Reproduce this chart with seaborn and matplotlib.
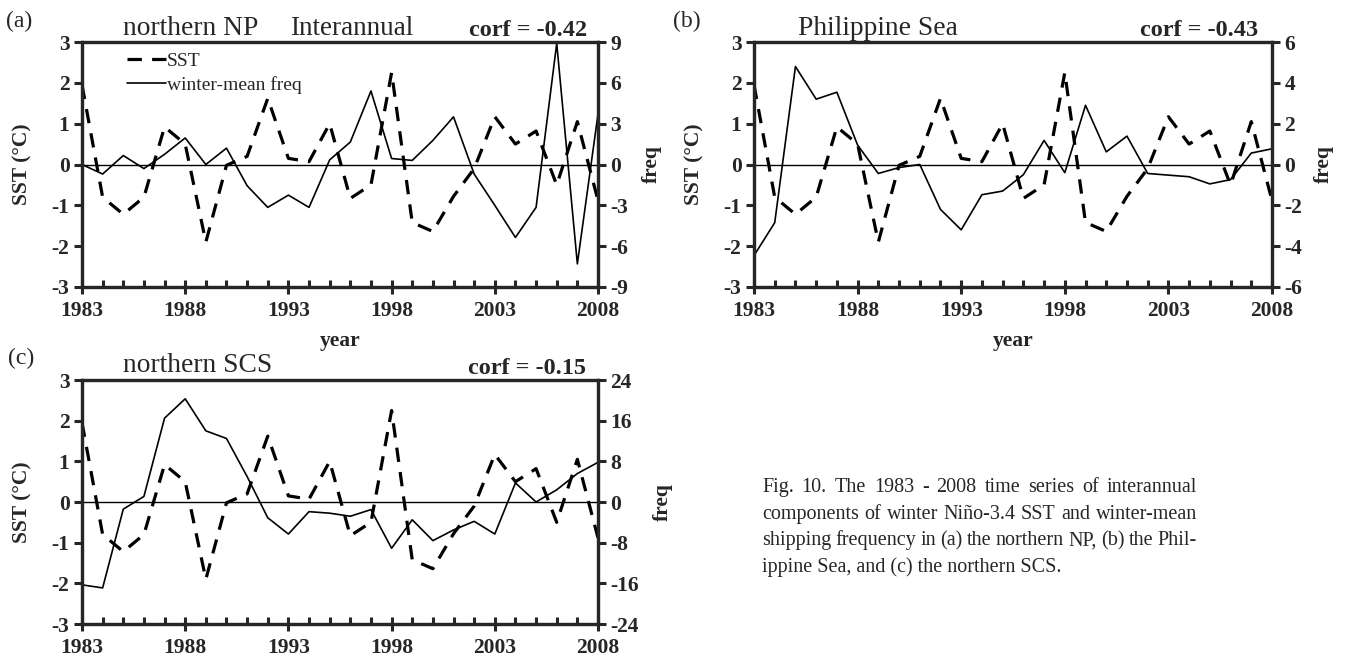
import matplotlib
matplotlib.use("Agg")
import pandas as pd
import matplotlib.pyplot as plt
from matplotlib.ticker import MultipleLocator
import seaborn as sns

# --- data ---
years = list(range(1983, 2009))
sst = [1.95, -0.80, -1.22, -0.80, 0.92, 0.50, -1.90, -0.02, 0.20, 1.62, 0.15, 0.07, 1.00,
       -0.83, -0.50, 2.25, -1.42, -1.64, -0.78, -0.10, 1.17, 0.50, 0.82, -0.50, 1.05, -0.88]
freq_np = [0.0, -0.7, 0.66, -0.3, 0.75, 1.95, 0.0, 1.2, -1.56, -3.15, -2.25, -3.15, 0.34,
           1.65, 5.4, 0.44, 0.3, 1.77, 3.5, -0.7, -3.0, -5.36, -3.15, 8.9, -7.3, 3.7]
freq_ps = [-4.46, -2.85, 4.8, 3.2, 3.54, 0.95, -0.44, -0.15, 0.0, -2.2, -3.2, -1.48, -1.3,
           -0.5, 1.18, -0.4, 2.9, 0.62, 1.39, -0.44, -0.52, -0.6, -0.95, -0.74, 0.56, 0.77]
freq_scs = [-16.3, -16.9, -1.4, 1.1, 16.5, 20.3, 14.0, 12.5, 5.0, -3.1, -6.3, -1.9, -2.2,
            -2.8, -1.5, -9.1, -3.5, -7.6, -5.5, -3.8, -6.3, 3.75, 0.0, 2.4, 5.6, 7.8]
year_ticks = [1983, 1988, 1993, 1998, 2003, 2008]
sst_ticks = [-3, -2, -1, 0, 1, 2, 3]
np_ticks = [-9, -6, -3, 0, 3, 6, 9]
ps_ticks = [-6, -4, -2, 0, 2, 4, 6]
scs_ticks = [-24, -16, -8, 0, 8, 16, 24]

sns.set_style("ticks")
plt.rcParams['font.family'] = ['Liberation Serif', 'DejaVu Serif']

W, H = 1345, 662
fig = plt.figure(figsize=(W / 100, H / 100), dpi=100)


def px(x, y):
    return x / W, 1 - y / H


def panel(box, freq, fticks, xlabel, legend, fpad):
    l, t, r, b = box
    ax = fig.add_axes([l / W, 1 - b / H, (r - l) / W, (b - t) / H])
    df = pd.DataFrame({'year': years, 'sst': sst, 'freq': freq})
    sns.lineplot(data=df, x='year', y='sst', ax=ax, color='k', lw=2.3,
                 linestyle=(0, (4.5, 3.2)), label='SST', legend=False)
    ax.axhline(0, color='k', lw=1.0)
    ax2 = ax.twinx()
    sns.lineplot(data=df, x='year', y='freq', ax=ax2, color='k', lw=1.2,
                 label='winter-mean freq', legend=False)

    ax.set_xlim(1983, 2008)
    ax.set_ylim(-3, 3)
    ax2.set_ylim(fticks[0], fticks[-1])
    ax.set_xticks(year_ticks, [str(v) for v in year_ticks], fontweight='bold', fontsize=15.5)
    ax.xaxis.set_minor_locator(MultipleLocator(1))
    ax.set_yticks(sst_ticks, [str(v) for v in sst_ticks], fontweight='bold', fontsize=15.5)
    ax2.set_yticks(fticks, [str(v) for v in fticks], fontweight='bold', fontsize=15.5)
    ax.tick_params(axis='x', which='major', direction='inout', length=10, width=2.2, pad=5)
    ax.tick_params(axis='x', which='minor', direction='in', length=5, width=2.2)
    ax.tick_params(axis='y', direction='out', length=6, width=2.2, pad=3)
    ax2.tick_params(axis='y', direction='out', length=6, width=2.2, pad=3)
    for a in (ax, ax2):
        for s in a.spines.values():
            s.set_visible(True)
            s.set_linewidth(2.3)

    ax.set_ylabel('SST (°C)', fontweight='bold', fontsize=15.5, labelpad=14)
    ax2.set_ylabel('freq', fontweight='bold', fontsize=15.5, labelpad=fpad)
    if xlabel:
        ax.set_xlabel('year', fontweight='bold', fontsize=15.5, labelpad=7)
    else:
        ax.set_xlabel('')
    if legend:
        h = [ax.lines[0], ax2.lines[0]]
        ax2.legend(h, ['SST', 'winter-mean freq'], loc='upper left',
                   bbox_to_anchor=(0.072, 0.99), frameon=False, fontsize=14,
                   handlelength=2.0, handletextpad=0.05, labelspacing=0.3,
                   borderaxespad=0)
    return ax


panel((82, 42, 598, 287), freq_np, np_ticks, True, True, 10)
panel((754, 42, 1272, 287), freq_ps, ps_ticks, True, False, 8)
panel((82, 380, 598, 624), freq_scs, scs_ticks, False, False, 10)

# panel titles
fig.text(*px(6, 21), '(a)', fontsize=17, va='center')
fig.text(*px(123, 35), 'northern NP', fontsize=19.8, va='baseline')
fig.text(*px(290, 35), 'Interannual', fontsize=19.5, va='baseline')
fig.text(*px(587, 36), 'corf = -0.42', fontsize=17.5, fontweight='bold', ha='right', va='baseline')
fig.text(*px(673, 21), '(b)', fontsize=17, va='center')
fig.text(*px(798, 35), 'Philippine Sea', fontsize=19.8, va='baseline')
fig.text(*px(1258, 36), 'corf = -0.43', fontsize=17.5, fontweight='bold', ha='right', va='baseline')
fig.text(*px(8, 358), '(c)', fontsize=17, va='center')
fig.text(*px(123, 372), 'northern SCS', fontsize=19.8, va='baseline')
fig.text(*px(586, 374), 'corf = -0.15', fontsize=17.5, fontweight='bold', ha='right', va='baseline')

# caption, justified
caption = ["Fig. 10. The 1983 - 2008 time series of interannual",
           "components of winter Niño-3.4 SST and winter-mean",
           "shipping frequency in (a) the northern NP, (b) the Phil-",
           "ippine Sea, and (c) the northern SCS."]
x0, x1 = 762, 1197
renderer = fig.canvas.get_renderer()
for i, line in enumerate(caption):
    yb = 492 + i * 26.7
    if i == len(caption) - 1:
        fig.text(*px(x0, yb), line, fontsize=14.5, va='baseline')
        continue
    words = line.split(' ')
    texts = [fig.text(0, 0, w, fontsize=14.5, va='baseline') for w in words]
    widths = [t.get_window_extent(renderer).width for t in texts]
    gap = (x1 - x0 - sum(widths)) / (len(words) - 1)
    x = x0
    for t, w in zip(texts, widths):
        t.set_position(px(x, yb))
        x += w + gap

fig.savefig('out.png', dpi=100)
